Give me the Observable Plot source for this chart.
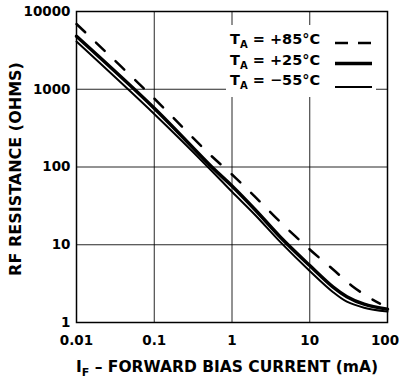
<!DOCTYPE html>
<html><head><meta charset="utf-8">
<script src="https://cdn.jsdelivr.net/npm/d3@7"></script>
<script src="https://cdn.jsdelivr.net/npm/@observablehq/plot@0.6"></script>
<style>body{margin:0;background:#fff} svg{display:block}</style>
</head><body><div id="chart"></div>
<script>
// Forward bias current (mA) and RF resistance (ohms)
const current85 = [0.01, 0.1, 0.5, 1, 2, 4.2, 10, 20, 35, 60, 80];
const resist85  = [6900, 760, 150, 80, 41, 19.5, 8.7, 4.8, 2.95, 2.05, 1.75];
const current25 = [0.01, 0.1, 0.55, 1, 2, 4.2, 10, 20, 30, 50, 100];
const resist25  = [4800, 570, 100, 57, 28, 12.5, 5.4, 2.85, 2.15, 1.72, 1.48];
const currentM55 = [0.01, 0.1, 0.5, 1, 2, 4.2, 10, 20, 30, 50, 100];
const resistM55  = [4100, 480, 98, 48, 24, 10.8, 4.6, 2.45, 1.85, 1.55, 1.38];

const seriesLabels = ["+85°C", "+25°C", "−55°C"];
const xTicks = [0.01, 0.1, 1, 10, 100];
const xTickLabels = ["0.01", "0.1", "1", "10", "100"];
const yTicks = [1, 10, 100, 1000, 10000];
const yTickLabels = ["1", "10", "100", "1000", "10000"];
const xGrid = [0.1, 1, 10];
const yGrid = [10, 100, 1000];
const xTitleMain = "I", xTitleSub = "F", xTitleRest = " – FORWARD BIAS CURRENT (mA)";
const yTitle = "RF RESISTANCE (OHMS)";

const toRows = (xs, ys, s) => xs.map((x, i) => ({I: x, R: ys[i], series: s}));
const rows85 = toRows(current85, resist85, seriesLabels[0]);
const rows25 = toRows(current25, resist25, seriesLabels[1]);
const rowsM55 = toRows(currentM55, resistM55, seriesLabels[2]);

const font = "DejaVu Sans";
const plot = Plot.plot({
  width: 399, height: 380,
  marginLeft: 76, marginRight: 12, marginTop: 11, marginBottom: 58,
  x: {type: "log", domain: [0.01, 100]},
  y: {type: "log", domain: [1, 10000]},
  style: {fontFamily: font, fontWeight: "bold", fontSize: "13.5px", color: "black", background: "white", overflow: "visible"},
  marks: [
    Plot.gridX(xGrid, {stroke: "black", strokeOpacity: 0.85, strokeWidth: 1}),
    Plot.gridY(yGrid, {stroke: "black", strokeOpacity: 0.85, strokeWidth: 1}),
    Plot.axisX(xTicks, {tickSize: 0, tickPadding: 13, label: null, fontSize: 13.5, fontWeight: "bold",
      tickFormat: d => xTickLabels[xTicks.indexOf(d)]}),
    Plot.axisY(yTicks, {tickSize: 0, tickPadding: 6, label: null, fontSize: 13.5, fontWeight: "bold",
      tickFormat: d => yTickLabels[yTicks.indexOf(d)]}),
    Plot.line(rows85, {x: "I", y: "R", stroke: "black", strokeWidth: 2.5, strokeDasharray: "12,15", curve: "catmull-rom"}),
    Plot.line(rows25, {x: "I", y: "R", stroke: "black", strokeWidth: 3.5, curve: "catmull-rom"}),
    Plot.line(rowsM55, {x: "I", y: "R", stroke: "black", strokeWidth: 2, curve: "catmull-rom"}),
    Plot.frame({stroke: "black", strokeWidth: 1.5})
  ]
});
document.getElementById("chart").appendChild(plot);

const svg = d3.select(plot);
// keep the last x tick label inside the picture
svg.selectAll("text").filter(function() { return this.textContent === xTickLabels[xTickLabels.length - 1] && this.closest("g[aria-label='x-axis tick label']"); })
  .attr("dx", -2.5);

// Axis titles
svg.append("text")
  .attr("transform", "translate(21,169) rotate(-90)")
  .attr("text-anchor", "middle")
  .attr("font-family", font).attr("font-weight", "bold").attr("font-size", 16)
  .attr("fill", "black").text(yTitle);
const xt = svg.append("text")
  .attr("x", 227).attr("y", 372)
  .attr("text-anchor", "middle")
  .attr("font-family", font).attr("font-weight", "bold").attr("font-size", 15.5)
  .attr("fill", "black");
xt.append("tspan").text(xTitleMain);
xt.append("tspan").attr("font-size", 11).attr("dy", 3.5).text(xTitleSub);
xt.append("tspan").attr("dy", -3.5).text(xTitleRest);

// Legend
const lg = svg.append("g").attr("text-anchor", "start");
lg.append("rect").attr("x", 226).attr("y", 25).attr("width", 150).attr("height", 72).attr("fill", "white");
const legendRows = [
  {label: seriesLabels[0], ty: 44, ly: 43, w: 2.5, dash: "13,10"},
  {label: seriesLabels[1], ty: 65, ly: 63.5, w: 3.5, dash: null},
  {label: seriesLabels[2], ty: 85, ly: 87, w: 2, dash: null}
];
legendRows.forEach(r => {
  const t = lg.append("text").attr("x", 230).attr("y", r.ty).attr("text-anchor", "start")
    .attr("font-family", font).attr("font-weight", "bold").attr("font-size", 14.5).attr("fill", "black");
  t.append("tspan").text("T");
  t.append("tspan").attr("font-size", 10).attr("dy", 4).text("A");
  t.append("tspan").attr("dy", -4).text(" = " + r.label);
  const l = lg.append("line").attr("x1", 335).attr("x2", 372).attr("y1", r.ly).attr("y2", r.ly)
    .attr("stroke", "black").attr("stroke-width", r.w);
  if (r.dash) l.attr("stroke-dasharray", r.dash);
});
</script>
</body></html>
